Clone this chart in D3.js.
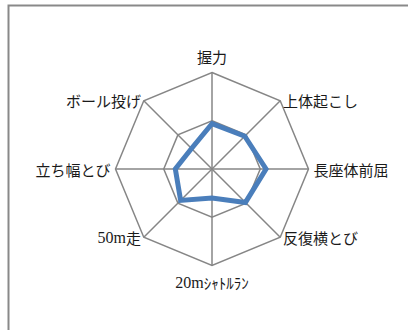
<!DOCTYPE html>
<html>
<head>
<meta charset="utf-8">
<script src="https://cdn.jsdelivr.net/npm/d3@7"></script>
<style>
  body { margin: 0; background: #fff; }
  svg { display: block; }
</style>
</head>
<body>
<svg width="408" height="330"></svg>
<script>
// kategorije i vrednosti
const categories = ["握力", "上体起こし", "長座体前屈", "反復横とび", "20mｼｬﾄﾙﾗﾝ", "50m走", "立ち幅とび", "ボール投げ"];
const values = [4.7, 4.8, 5.6, 4.9, 3.0, 4.6, 3.8, 3.0];
const gridLevels = [5, 10];

const svg = d3.select("svg");

// okvir grafika
svg.append("rect")
  .attr("x", 8.5)
  .attr("y", 5.5)
  .attr("width", 430)
  .attr("height", 350)
  .attr("fill", "#fff")
  .attr("stroke", "#898989")
  .attr("stroke-width", 2);

const cx = 212, cy = 169, R = 96.5;
const rScale = d3.scaleLinear().domain([0, 10]).range([0, R]);
const angle = i => i * 2 * Math.PI / categories.length;

const g = svg.append("g").attr("transform", "translate(" + cx + "," + cy + ")");

// mreza
const ring = d3.lineRadial().curve(d3.curveLinearClosed);
gridLevels.forEach(function (lvl) {
  g.append("path")
    .attr("d", ring(categories.map((c, i) => [angle(i), rScale(lvl)])))
    .attr("fill", "none")
    .attr("stroke", "#868686")
    .attr("stroke-width", 1.5);
});

g.selectAll("line.spoke")
  .data(categories)
  .enter()
  .append("line")
  .attr("x1", 0).attr("y1", 0)
  .attr("x2", (d, i) => rScale(10) * Math.sin(angle(i)))
  .attr("y2", (d, i) => -rScale(10) * Math.cos(angle(i)))
  .attr("stroke", "#868686")
  .attr("stroke-width", 1.5);

// serija
g.append("path")
  .attr("d", ring(values.map((v, i) => [angle(i), rScale(v)])))
  .attr("fill", "none")
  .attr("stroke", "#4a7ebb")
  .attr("stroke-width", 5)
  .attr("stroke-linejoin", "miter");

// natpisi
const labels = g.selectAll("text.lbl")
  .data(categories)
  .enter()
  .append("text")
  .attr("x", function (d, i) {
    const s = Math.sin(angle(i));
    const pad = Math.abs(s) > 0.9 ? 5 : (Math.abs(s) > 0.1 ? 4 : 0);
    return (rScale(10) + pad) * s;
  })
  .attr("y", function (d, i) {
    const c = Math.cos(angle(i));
    if (Math.abs(c) > 0.9) return -(rScale(10) + 16) * c;
    return -rScale(10) * c;
  })
  .attr("text-anchor", function (d, i) {
    const s = Math.sin(angle(i));
    return s > 0.1 ? "start" : (s < -0.1 ? "end" : "middle");
  })
  .attr("dominant-baseline", "central")
  .style("font-family", "'Noto Sans CJK JP', sans-serif")
  .style("font-size", "15px")
  .style("fill", "#1a1a1a");

// brojevi serif fontom, ostatak CJK
labels.each(function (d) {
  const t = d3.select(this);
  const m = d.match(/^([0-9a-z]+)(.*)$/);
  if (m) {
    t.append("tspan")
      .style("font-family", "'Liberation Serif', serif")
      .style("font-size", "16px")
      .text(m[1]);
    t.append("tspan").text(m[2]);
  } else {
    t.text(d);
  }
});
</script>
</body>
</html>
